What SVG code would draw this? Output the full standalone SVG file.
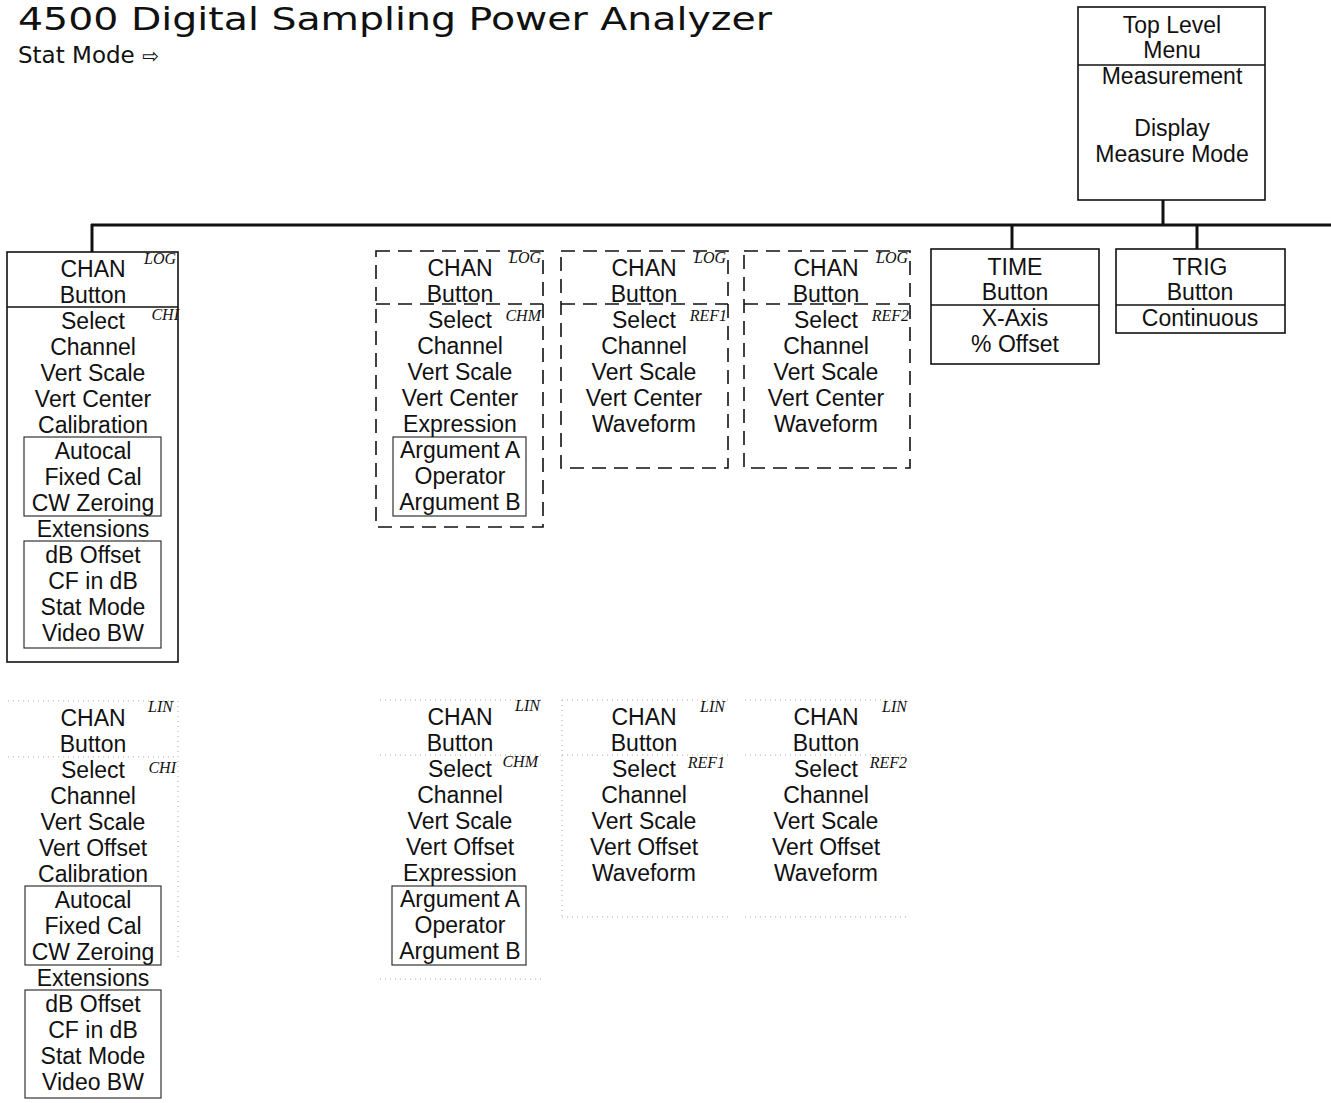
<svg xmlns="http://www.w3.org/2000/svg" width="1331" height="1103" viewBox="0 0 1331 1103">
<style>
.t{font-family:"Liberation Sans",Arial,sans-serif;font-size:23px;fill:#111;text-anchor:middle}
.tag{font-family:"Liberation Serif","Times New Roman",serif;font-size:16px;font-style:italic;fill:#111;text-anchor:end}
.box{fill:none;stroke:#111;stroke-width:1.6}
.dash{fill:none;stroke:#111;stroke-width:1.6;stroke-dasharray:14,8}
.faint{fill:none;stroke:#aaa;stroke-width:1;stroke-dasharray:1,4}
.inner{fill:none;stroke:#333;stroke-width:1.2}
.conn{stroke:#111;stroke-width:3;fill:none}
</style>
<rect width="1331" height="1103" fill="#fff"/>
<text x="18" y="30" font-family="'DejaVu Sans',sans-serif" font-size="32" fill="#111" textLength="754" lengthAdjust="spacingAndGlyphs">4500 Digital Sampling Power Analyzer</text>
<text x="18" y="63" font-family="'DejaVu Sans',sans-serif" font-size="23" fill="#111">Stat Mode <tspan font-size="20">⇨</tspan></text>

<g id="connectors">
<line class="conn" x1="1163" y1="200" x2="1163" y2="225"/>
<line class="conn" x1="91" y1="225" x2="1331" y2="225"/>
<line class="conn" x1="92" y1="224" x2="92" y2="252"/>
<line class="conn" x1="1012" y1="225" x2="1012" y2="249"/>
<line class="conn" x1="1197" y1="225" x2="1197" y2="249"/>
</g>

<g id="top-menu">
<rect class="box" x="1078" y="7" width="187" height="193"/>
<line class="box" x1="1078" y1="65" x2="1265" y2="65"/>
<text class="t" x="1172" y="33">Top Level</text>
<text class="t" x="1172" y="58">Menu</text>
<text class="t" x="1172" y="84">Measurement</text>
<text class="t" x="1172" y="136">Display</text>
<text class="t" x="1172" y="162">Measure Mode</text>
</g>

<g id="chan-log-ch1">
<rect class="box" x="7" y="252" width="171" height="410"/>
<line class="box" x1="7" y1="307" x2="178" y2="307"/>
<rect class="inner" x="24" y="437" width="137" height="79"/>
<rect class="inner" x="24" y="541" width="137" height="107"/>
<text class="tag" x="176" y="264">LOG</text>
<text class="tag" x="179" y="320">CHI</text>
<text class="t" x="93" y="277">CHAN</text>
<text class="t" x="93" y="303">Button</text>
<text class="t" x="93" y="329">Select</text>
<text class="t" x="93" y="355">Channel</text>
<text class="t" x="93" y="381">Vert Scale</text>
<text class="t" x="93" y="407">Vert Center</text>
<text class="t" x="93" y="433">Calibration</text>
<text class="t" x="93" y="459">Autocal</text>
<text class="t" x="93" y="485">Fixed Cal</text>
<text class="t" x="93" y="511">CW Zeroing</text>
<text class="t" x="93" y="537">Extensions</text>
<text class="t" x="93" y="563">dB Offset</text>
<text class="t" x="93" y="589">CF in dB</text>
<text class="t" x="93" y="615">Stat Mode</text>
<text class="t" x="93" y="641">Video BW</text>
</g>

<g id="chan-log-chm">
<rect class="dash" x="376" y="251" width="167" height="276"/>
<line class="dash" x1="376" y1="304" x2="543" y2="304"/>
<rect class="inner" x="393" y="437" width="133" height="79"/>
<text class="tag" x="541" y="263">LOG</text>
<text class="tag" x="541" y="321">CHM</text>
<text class="t" x="460" y="276">CHAN</text>
<text class="t" x="460" y="302">Button</text>
<text class="t" x="460" y="328">Select</text>
<text class="t" x="460" y="354">Channel</text>
<text class="t" x="460" y="380">Vert Scale</text>
<text class="t" x="460" y="406">Vert Center</text>
<text class="t" x="460" y="432">Expression</text>
<text class="t" x="460" y="458">Argument A</text>
<text class="t" x="460" y="484">Operator</text>
<text class="t" x="460" y="510">Argument B</text>
</g>

<g id="chan-log-ref1">
<rect class="dash" x="561" y="251" width="167" height="217"/>
<line class="dash" x1="561" y1="304" x2="728" y2="304"/>
<text class="tag" x="726" y="263">LOG</text>
<text class="tag" x="727" y="321">REF1</text>
<text class="t" x="644" y="276">CHAN</text>
<text class="t" x="644" y="302">Button</text>
<text class="t" x="644" y="328">Select</text>
<text class="t" x="644" y="354">Channel</text>
<text class="t" x="644" y="380">Vert Scale</text>
<text class="t" x="644" y="406">Vert Center</text>
<text class="t" x="644" y="432">Waveform</text>
</g>

<g id="chan-log-ref2">
<rect class="dash" x="744" y="251" width="166" height="217"/>
<line class="dash" x1="744" y1="304" x2="910" y2="304"/>
<text class="tag" x="908" y="263">LOG</text>
<text class="tag" x="909" y="321">REF2</text>
<text class="t" x="826" y="276">CHAN</text>
<text class="t" x="826" y="302">Button</text>
<text class="t" x="826" y="328">Select</text>
<text class="t" x="826" y="354">Channel</text>
<text class="t" x="826" y="380">Vert Scale</text>
<text class="t" x="826" y="406">Vert Center</text>
<text class="t" x="826" y="432">Waveform</text>
</g>

<g id="time-button">
<rect class="box" x="931" y="249" width="168" height="115"/>
<line class="box" x1="931" y1="305" x2="1099" y2="305"/>
<text class="t" x="1015" y="275">TIME</text>
<text class="t" x="1015" y="300">Button</text>
<text class="t" x="1015" y="326">X-Axis</text>
<text class="t" x="1015" y="352">% Offset</text>
</g>

<g id="trig-button">
<rect class="box" x="1116" y="249" width="169" height="84"/>
<line class="box" x1="1116" y1="305" x2="1285" y2="305"/>
<text class="t" x="1200" y="275">TRIG</text>
<text class="t" x="1200" y="300">Button</text>
<text class="t" x="1200" y="326">Continuous</text>
</g>

<g id="chan-lin-ch1">
<line class="faint" x1="8" y1="701" x2="178" y2="701"/>
<line class="faint" x1="8" y1="757" x2="178" y2="757"/>
<line class="faint" x1="178" y1="701" x2="178" y2="960"/>
<rect class="inner" x="25" y="886" width="136" height="79"/>
<rect class="inner" x="25" y="990" width="136" height="108"/>
<text class="tag" x="173" y="712">LIN</text>
<text class="tag" x="176" y="773">CHI</text>
<text class="t" x="93" y="726">CHAN</text>
<text class="t" x="93" y="752">Button</text>
<text class="t" x="93" y="778">Select</text>
<text class="t" x="93" y="804">Channel</text>
<text class="t" x="93" y="830">Vert Scale</text>
<text class="t" x="93" y="856">Vert Offset</text>
<text class="t" x="93" y="882">Calibration</text>
<text class="t" x="93" y="908">Autocal</text>
<text class="t" x="93" y="934">Fixed Cal</text>
<text class="t" x="93" y="960">CW Zeroing</text>
<text class="t" x="93" y="986">Extensions</text>
<text class="t" x="93" y="1012">dB Offset</text>
<text class="t" x="93" y="1038">CF in dB</text>
<text class="t" x="93" y="1064">Stat Mode</text>
<text class="t" x="93" y="1090">Video BW</text>
</g>

<g id="chan-lin-chm">
<line class="faint" x1="380" y1="700" x2="545" y2="700"/>
<line class="faint" x1="380" y1="755" x2="545" y2="755"/>
<line class="faint" x1="380" y1="979" x2="545" y2="979"/>
<rect class="inner" x="392" y="886" width="134" height="79"/>
<text class="tag" x="540" y="711">LIN</text>
<text class="tag" x="538" y="767">CHM</text>
<text class="t" x="460" y="725">CHAN</text>
<text class="t" x="460" y="751">Button</text>
<text class="t" x="460" y="777">Select</text>
<text class="t" x="460" y="803">Channel</text>
<text class="t" x="460" y="829">Vert Scale</text>
<text class="t" x="460" y="855">Vert Offset</text>
<text class="t" x="460" y="881">Expression</text>
<text class="t" x="460" y="907">Argument A</text>
<text class="t" x="460" y="933">Operator</text>
<text class="t" x="460" y="959">Argument B</text>
</g>

<g id="chan-lin-ref1">
<line class="faint" x1="562" y1="700" x2="728" y2="700"/>
<line class="faint" x1="562" y1="755" x2="728" y2="755"/>
<line class="faint" x1="562" y1="917" x2="728" y2="917"/>
<line class="faint" x1="562" y1="700" x2="562" y2="917"/>
<text class="tag" x="725" y="712">LIN</text>
<text class="tag" x="725" y="768">REF1</text>
<text class="t" x="644" y="725">CHAN</text>
<text class="t" x="644" y="751">Button</text>
<text class="t" x="644" y="777">Select</text>
<text class="t" x="644" y="803">Channel</text>
<text class="t" x="644" y="829">Vert Scale</text>
<text class="t" x="644" y="855">Vert Offset</text>
<text class="t" x="644" y="881">Waveform</text>
</g>

<g id="chan-lin-ref2">
<line class="faint" x1="745" y1="700" x2="910" y2="700"/>
<line class="faint" x1="745" y1="755" x2="910" y2="755"/>
<line class="faint" x1="745" y1="917" x2="910" y2="917"/>
<text class="tag" x="907" y="712">LIN</text>
<text class="tag" x="907" y="768">REF2</text>
<text class="t" x="826" y="725">CHAN</text>
<text class="t" x="826" y="751">Button</text>
<text class="t" x="826" y="777">Select</text>
<text class="t" x="826" y="803">Channel</text>
<text class="t" x="826" y="829">Vert Scale</text>
<text class="t" x="826" y="855">Vert Offset</text>
<text class="t" x="826" y="881">Waveform</text>
</g>
</svg>
